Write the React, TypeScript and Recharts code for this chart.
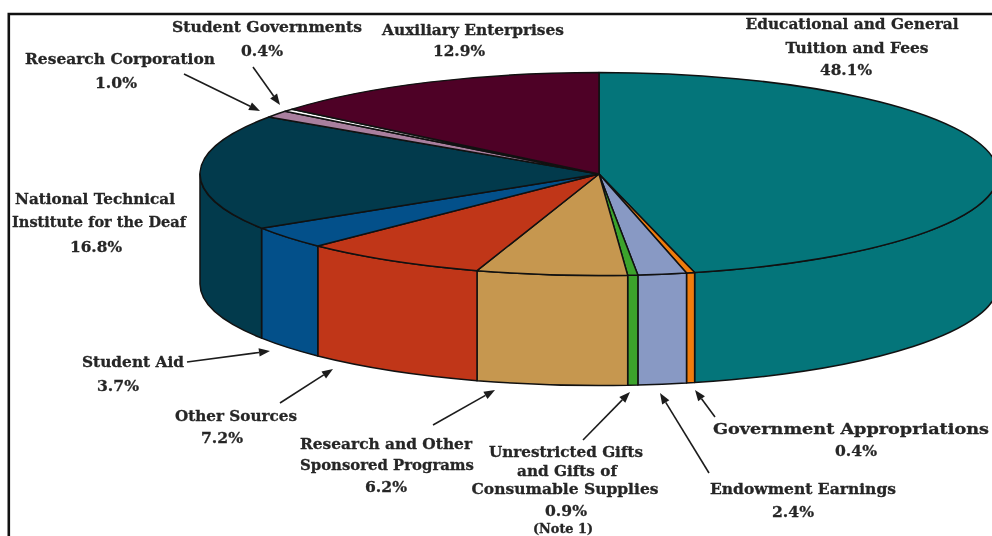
import React from "react";
import { PieChart, Pie, Cell } from "recharts";

// ---- data (clockwise from 12 o'clock)
const sliceNames = [
  "Educational and General Tuition and Fees",
  "Government Appropriations",
  "Endowment Earnings",
  "Unrestricted Gifts and Gifts of Consumable Supplies",
  "Research and Other Sponsored Programs",
  "Other Sources",
  "Student Aid",
  "National Technical Institute for the Deaf",
  "Research Corporation",
  "Student Governments",
  "Auxiliary Enterprises",
];
const sliceValues = [48.1, 0.4, 2.4, 0.9, 6.2, 7.2, 3.7, 16.8, 1.0, 0.4, 12.9];
const sliceColors = ["#04757a", "#f07c0c", "#8899c4", "#3ca32c", "#c6974f", "#c03618", "#03508a", "#023a4c", "#a97f9e", "#ffffff", "#4e0126"];

const chartData = sliceNames.map((name, i) => ({ name, value: sliceValues[i] }));

// ---- text
const labelLines = [
  ["Educational and General", "Tuition and Fees", "48.1%"],
  ["Student Governments", "0.4%"],
  ["Research Corporation", "1.0%"],
  ["Auxiliary Enterprises", "12.9%"],
  ["National Technical", "Institute for the Deaf", "16.8%"],
  ["Student Aid", "3.7%"],
  ["Other Sources", "7.2%"],
  ["Research and Other", "Sponsored Programs", "6.2%"],
  ["Unrestricted Gifts", "and Gifts of", "Consumable Supplies", "0.9%"],
  ["Government Appropriations", "0.4%"],
  ["Endowment Earnings", "2.4%"],
];
// per line: [centre x, baseline y, width]
const labelLayout: number[][][] = [
  [[852, 29, 213], [857, 53, 143], [846, 75, 52]],
  [[267, 32, 190], [262, 56, 42]],
  [[120, 64, 190], [116, 88, 42]],
  [[473, 35, 182], [459, 56, 52]],
  [[95, 204, 160], [99, 227, 174], [96, 252, 52]],
  [[133, 367, 102], [118, 391, 42]],
  [[236, 421, 122], [222, 443, 42]],
  [[386, 449, 172], [387, 470, 174], [386, 492, 42]],
  [[566, 457, 154], [567, 476, 100], [565, 494, 187], [566, 516, 42]],
  [[851, 434, 276], [856, 456, 42]],
  [[803, 494, 186], [793, 517, 42]],
];
const noteLabel = "(Note 1)";

// leader arrows: [fromX, fromY, toX, toY]
const leaders = [
  [184, 74, 260, 111],
  [253, 67, 280, 105],
  [187, 362, 270, 351],
  [280, 403, 333, 369],
  [433, 425, 495, 390],
  [583, 440, 630, 392],
  [709, 473, 660, 393],
  [715, 417, 695, 390],
];

// ---- projection of the pie's disc
const CX = 599;
const CY = 174;
const RX = 399;
const RY = 101.5;
const DEPTH = 110;
const TXT = "#262626";

// perspective correction: how many degrees the reference's drawing lags the true data angle
const lagAngles = [0, 173, 183, 186.4, 208.7, 234.6, 248, 313, 360];
const lagDegrees = [0, 7, 8.7, 10.6, 11, 9.9, 10.3, 3.9, 0];

const rad = (d: number) => (d * Math.PI) / 180;
const warp = (clockwise: number) => {
  for (let i = 1; i < lagAngles.length; i++) {
    if (clockwise <= lagAngles[i] + 1e-6) {
      const f = (clockwise - lagAngles[i - 1]) / (lagAngles[i] - lagAngles[i - 1]);
      return clockwise - (lagDegrees[i - 1] + f * (lagDegrees[i] - lagDegrees[i - 1]));
    }
  }
  return clockwise;
};
const pt = (phi: number, dy = 0) => `${(CX + RX * Math.sin(rad(phi))).toFixed(2)} ${(CY - RY * Math.cos(rad(phi)) + dy).toFixed(2)}`;

function Slice3D(props: any) {
  const { startAngle, endAngle, fill } = props;
  const a = warp(90 - startAngle);
  const b = warp(90 - endAngle);
  const large = b - a > 180 ? 1 : 0;
  const top = `M${CX} ${CY} L${pt(a)} A${RX} ${RY} 0 ${large} 1 ${pt(b)} Z`;
  const s = Math.max(a, 90);
  const e = Math.min(b, 270);
  const wall = e > s
    ? `M${pt(s)} A${RX} ${RY} 0 0 1 ${pt(e)} L${pt(e, DEPTH)} A${RX} ${RY} 0 0 0 ${pt(s, DEPTH)} Z`
    : null;
  return (
    <g>
      {wall && <path d={wall} fill={fill} stroke="#111" strokeWidth={1.5} strokeLinejoin="round" />}
      <path d={top} fill={fill} stroke="#111" strokeWidth={1.5} strokeLinejoin="round" />
    </g>
  );
}

function Arrow({ seg }: { seg: number[] }) {
  const [x1, y1, x2, y2] = seg;
  const ang = Math.atan2(y2 - y1, x2 - x1);
  const L = 11;
  const W = 4.2;
  const bx = x2 - L * Math.cos(ang);
  const by = y2 - L * Math.sin(ang);
  const nx = -Math.sin(ang) * W;
  const ny = Math.cos(ang) * W;
  return (
    <g>
      <line x1={x1} y1={y1} x2={bx} y2={by} stroke="#1c1c1c" strokeWidth={1.6} />
      <polygon points={`${x2},${y2} ${bx + nx},${by + ny} ${bx - nx},${by - ny}`} fill="#1c1c1c" />
    </g>
  );
}

export default function App() {
  return (
    <div style={{ position: "absolute", left: 0, top: 0, width: 992, height: 536, background: "#fff", overflow: "hidden", filter: "blur(0.4px)" }}>
      <PieChart width={992} height={536} margin={{ top: 0, right: 0, bottom: 0, left: 0 }}>
        <Pie
          data={chartData}
          dataKey="value"
          nameKey="name"
          cx={CX}
          cy={CY}
          innerRadius={0}
          outerRadius={RX}
          startAngle={90}
          endAngle={-270}
          stroke="none"
          isAnimationActive={false}
          shape={Slice3D}
        >
          {sliceColors.map((c, i) => (
            <Cell key={i} fill={c} />
          ))}
        </Pie>
        <path d="M992 14 H8.8 V536" fill="none" stroke="#111" strokeWidth={2.6} />
        {leaders.map((s, i) => (
          <Arrow key={i} seg={s} />
        ))}
        <g fontFamily="'DejaVu Serif', serif" fontWeight={700} fontSize={15.5} fill={TXT} stroke={TXT} strokeWidth={0.3} textAnchor="middle">
          {labelLines.map((lines, i) =>
            lines.map((t, j) => {
              const [x, y, w] = labelLayout[i][j];
              return (
                <text key={`${i}-${j}`} x={x} y={y} textLength={w} lengthAdjust="spacingAndGlyphs">
                  {t}
                </text>
              );
            })
          )}
          <text x={563} y={533} fontSize={12.5} textLength={60} lengthAdjust="spacingAndGlyphs">{noteLabel}</text>
        </g>
      </PieChart>
    </div>
  );
}
